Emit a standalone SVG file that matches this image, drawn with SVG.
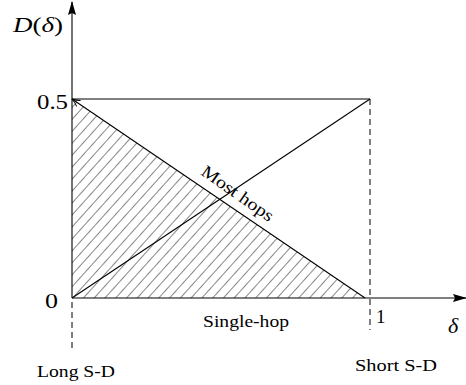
<svg xmlns="http://www.w3.org/2000/svg" width="466" height="385" viewBox="0 0 466 385">
<defs>
<style>
.ln{stroke:#000;stroke-width:1.1;fill:none}
.ds{stroke:#000;stroke-width:1;fill:none;stroke-dasharray:6,4}
text{font-family:"Liberation Serif","DejaVu Serif",serif;fill:#000}
.it{font-style:italic}
</style>
<pattern id="hatch" patternUnits="userSpaceOnUse" width="8" height="8" patternTransform="rotate(42 72 298)">
<line x1="0" y1="0" x2="0" y2="8" stroke="#111" stroke-width="1"/>
</pattern>
<marker id="fill" markerWidth="14" markerHeight="10" refX="13" refY="5" orient="auto" markerUnits="userSpaceOnUse">
<path d="M0,1 L14,5 L0,9 L2,5 Z" fill="#000"/>
</marker>
<marker id="open" markerWidth="10" markerHeight="10" refX="9" refY="5" orient="auto" markerUnits="userSpaceOnUse">
<path d="M1,1.5 Q5,4 9,5 Q5,6 1,8.5" fill="none" stroke="#000" stroke-width="1"/>
</marker>
</defs>
<g id="hatched-region">
<polygon points="72,99 72,298 365,298" fill="url(#hatch)"/>
</g>
<g id="connectors">
<line class="ln" x1="72" y1="298" x2="72" y2="2" marker-end="url(#fill)"/>
<line class="ln" x1="72" y1="298" x2="466" y2="298" marker-end="url(#fill)"/>
<line class="ln" x1="72" y1="99" x2="370" y2="99"/>
<line class="ln" x1="72" y1="298" x2="370" y2="99"/>
<line class="ln" x1="365" y1="298" x2="72" y2="99" marker-end="url(#open)"/>
<line class="ds" x1="370" y1="99" x2="370" y2="330"/>
<line class="ds" x1="72" y1="302" x2="72" y2="352"/>
</g>
<g id="labels">
<text x="13" y="32" font-size="21" textLength="50" lengthAdjust="spacingAndGlyphs"><tspan class="it">D</tspan>(<tspan class="it">δ</tspan>)</text>
<text x="37" y="109" font-size="22" textLength="31" lengthAdjust="spacingAndGlyphs">0.5</text>
<text x="45" y="308" font-size="22" textLength="13" lengthAdjust="spacingAndGlyphs">0</text>
<text x="376" y="323" font-size="19">1</text>
<text class="it" x="448" y="333" font-size="22">δ</text>
<text x="203" y="327" font-size="17.5" textLength="86" lengthAdjust="spacingAndGlyphs">Single-hop</text>
<text x="37" y="377" font-size="17.5" textLength="78" lengthAdjust="spacingAndGlyphs">Long S-D</text>
<text x="355" y="371" font-size="17.5" textLength="82" lengthAdjust="spacingAndGlyphs">Short S-D</text>
<text x="200" y="174" font-size="17.5" textLength="84" lengthAdjust="spacingAndGlyphs" transform="rotate(35 200 174)">Most hops</text>
</g>
</svg>
